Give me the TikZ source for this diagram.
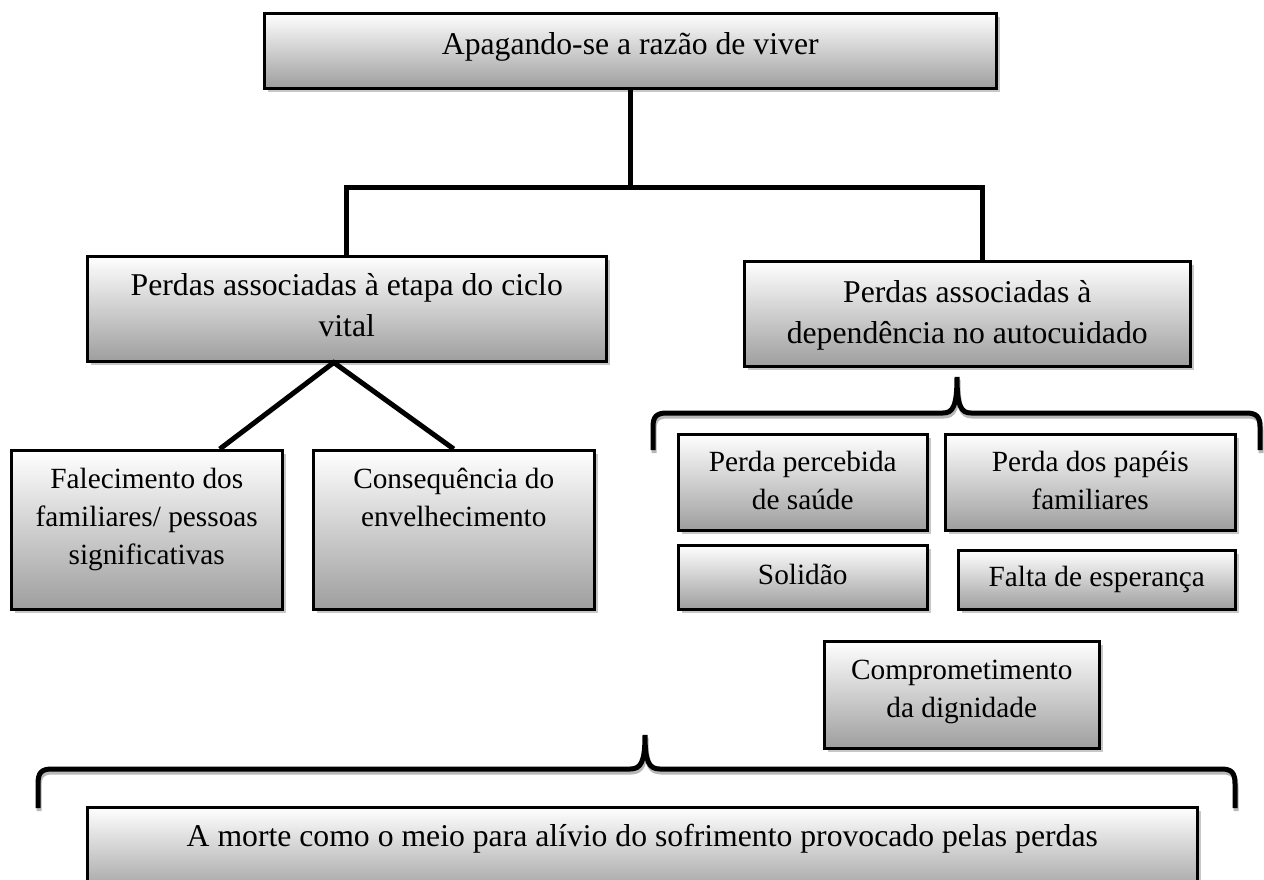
\documentclass[tikz,border=0pt]{standalone}
\usepackage{fontspec}
\setmainfont{Liberation Serif}
\usetikzlibrary{shadows,positioning}

\tikzset{
  box/.style={draw, line width=2.5pt, inner sep=0pt, align=center, anchor=north west,
    top color=white, bottom color=black!38,
    drop shadow={shadow xshift=4pt, shadow yshift=-4pt, fill=black!22, opacity=1}},
  bigtxt/.style={font=\fontsize{31.7}{41}\selectfont},
  smalltxt/.style={font=\fontsize{29.3}{38}\selectfont},
  conn/.style={line width=5pt},
  brace/.style={line width=5pt,
    preaction={draw=black!28, line width=5pt, transform canvas={xshift=1pt, yshift=-3pt}}}
}

\begin{document}
\begin{tikzpicture}[x=1pt, y=-1pt]
        \path[use as bounding box, fill=white] (0,0) rectangle (1264,879);

        \node[box, bigtxt, minimum width=732pt, text height=41pt, text depth=34pt] (apag) at (263,12) {Apagando-se a razão de viver};
        \node[box, bigtxt, minimum width=519pt, text height=80pt, text depth=25pt] (ciclo) at (86,255) {Perdas associadas à etapa do ciclo\\vital};
        \node[box, bigtxt, minimum width=446pt, text height=82pt, text depth=23pt] (autoc) at (743,260) {Perdas associadas à\\dependência no autocuidado};

        \node[box, smalltxt, minimum width=271pt, text height=114pt, text depth=45pt] (falec) at (10,449) {Falecimento dos\\familiares/ pessoas\\significativas};
        \node[box, smalltxt, minimum width=281pt, text height=76pt, text depth=83pt] (envel) at (312,449) {Consequência do\\envelhecimento};

        \node[box, smalltxt, minimum width=249pt, text height=75pt, text depth=21pt] (saude) at (677,433) {Perda percebida\\de saúde};
        \node[box, smalltxt, minimum width=290pt, text height=75pt, text depth=21pt] (papeis) at (944,433) {Perda dos papéis\\familiares};
        \node[box, smalltxt, minimum width=249pt, text height=39pt, text depth=25pt] (solid) at (677,544) {Solidão};
        \node[box, smalltxt, minimum width=277pt, text height=36pt, text depth=23pt] (esper) at (957,549) {Falta de esperança};
        \node[box, smalltxt, minimum width=275pt, text height=76pt, text depth=31pt] (digni) at (823,640) {Comprometimento\\da dignidade};

        \node[box, bigtxt, minimum width=1110pt, text height=39pt, text depth=50pt] (morte) at (86,806) {A morte como o meio para alívio do sofrimento provocado pelas perdas};

        \coordinate (hub) at ([yshift=-98pt]apag.south);
        \draw[conn] (apag.south) -- (hub);
        \draw[conn] (ciclo.north) |- (hub) -| ([xshift=15pt]autoc.north);
        \draw[conn] ([xshift=73pt]falec.north) -- ([xshift=-13pt]ciclo.south) -- (envel.north);

        \draw[brace] (653,450) -- (653,427) .. controls (653,417) and (656,413) .. (667,413) -- (943,413)
            .. controls (953,413) and (957,406) .. (957,377) .. controls (957,406) and (961,413) .. (971,413)
            -- (1246,413) .. controls (1257,413) and (1260,417) .. (1260,427) -- (1260,450);
        \draw[brace] (38,808) -- (38,784) .. controls (38,773) and (41,769) .. (52,769) -- (630,769)
            .. controls (641,769) and (645,762) .. (645,735) .. controls (645,762) and (649,769) .. (660,769)
            -- (1221,769) .. controls (1232,769) and (1235,773) .. (1235,784) -- (1235,808);
    \end{tikzpicture}
\end{document}
